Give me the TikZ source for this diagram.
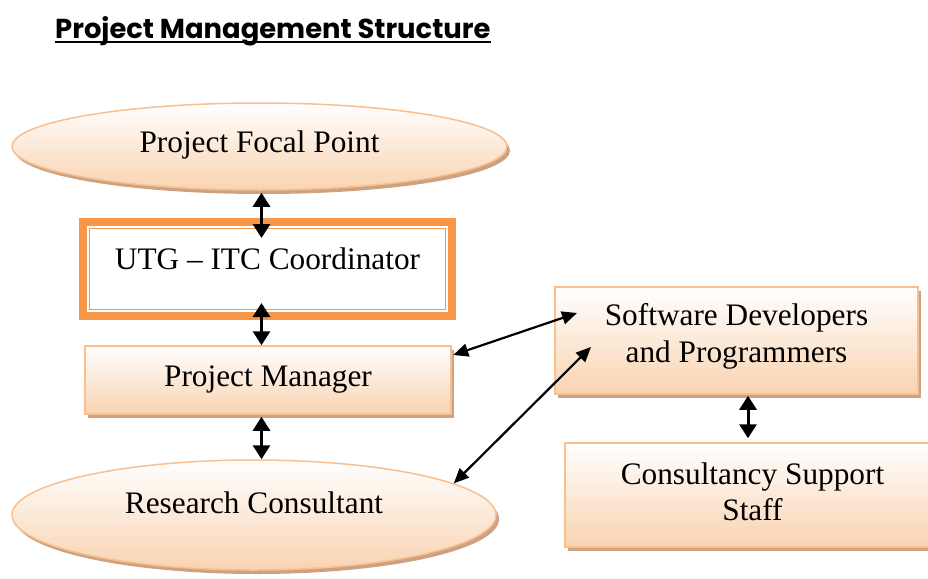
\documentclass[tikz,border=0pt]{standalone}
\usepackage{fontspec}
\setmainfont{Liberation Serif}
\newfontfamily\headfont{Poppins}
\usetikzlibrary{shapes.geometric,shadows,arrows.meta,calc}
\definecolor{peachline}{HTML}{F9BF8F}
\definecolor{peachfill}{HTML}{F9D3B1}
\definecolor{peachshadow}{HTML}{CDA283}
\definecolor{frameorange}{HTML}{F79646}
\tikzset{
  boxtext/.style={font=\fontsize{31.3}{36.5}\selectfont, align=center, text height=22pt, inner sep=0pt},
  peachshape/.style={boxtext, draw=peachline, line width=1.5pt, top color=white, bottom color=peachfill,
    drop shadow={shadow xshift=3pt, shadow yshift=-4pt, fill=peachshadow, opacity=1}},
  oval/.style={peachshape, ellipse},
  panel/.style={peachshape, rectangle},
  bigtip/.style={{Triangle[width=17pt,length=14pt]}-{Triangle[width=17pt,length=14pt]}, line width=3pt},
  slimtip/.style={{Triangle[width=13pt,length=15pt]}-{Triangle[width=13pt,length=15pt]}, line width=2.2pt},
}
\begin{document}
\begin{tikzpicture}[x=1pt,y=-1pt]
\path[use as bounding box, clip] (0,0) rectangle (928,578);
\fill[white] (0,0) rectangle (928,578);

% heading
\node[anchor=base west, inner sep=0pt, font=\headfont\bfseries\fontsize{27.4}{30}\selectfont] (title) at (55,38) {Project Management Structure};
\draw[line width=2.5pt] ($(title.base west)+(0,4)$) -- ($(title.base east)+(0,4)$);

% left column
\node[oval, minimum width=495pt, minimum height=87pt, text depth=9.4pt] (fp) at (259.5,146.5) {Project Focal Point};
\node[boxtext, rectangle, draw=frameorange, line width=8pt, fill=white, outer sep=0pt,
      minimum width=369pt, minimum height=94pt, text depth=21.4pt] (utg) at (267.5,269) {UTG -- ITC Coordinator};
\draw[frameorange, line width=1.4pt] ($(utg.north west)+(6.5,6.5)$) rectangle ($(utg.south east)+(-6.5,-6.5)$);
\node[panel, minimum width=366pt, minimum height=68pt, text depth=9.4pt] (pm) at (268,380) {Project Manager};
\node[oval, minimum width=484pt, minimum height=110pt, text depth=24.8pt] (rc) at (254,515) {Research Consultant};

% right column
\node[panel, minimum width=363pt, minimum height=107pt, text height=58.5pt, text depth=14.9pt] (sd) at (736.5,340.5) {Software Developers\\and Programmers};
\node[panel, minimum width=375pt, minimum height=104pt, text height=58.5pt, text depth=7.5pt] (cs) at (752.5,495) {Consultancy Support\\Staff};

% links
\draw[bigtip] ($(fp.south)+(2,2)$) -- ($(utg.north)+(-6,16)$);
\draw[bigtip] ($(utg.south)+(-6,-13)$) -- ($(pm.north)+(-6.5,0)$);
\draw[bigtip] ($(pm.south)+(-6.5,2)$) -- ($(rc.north)+(7.5,0)$);
\draw[bigtip] ($(sd.south)+(11.5,1)$) -- ($(cs.north)+(-4.5,-4)$);
\draw[slimtip] ($(pm.east)+(1.5,-25)$) -- ($(sd.west)+(22.75,-27.5)$);
\draw[slimtip] (rc.9) -- ($(sd.west)+(36.75,6.5)$);
\end{tikzpicture}
\end{document}
